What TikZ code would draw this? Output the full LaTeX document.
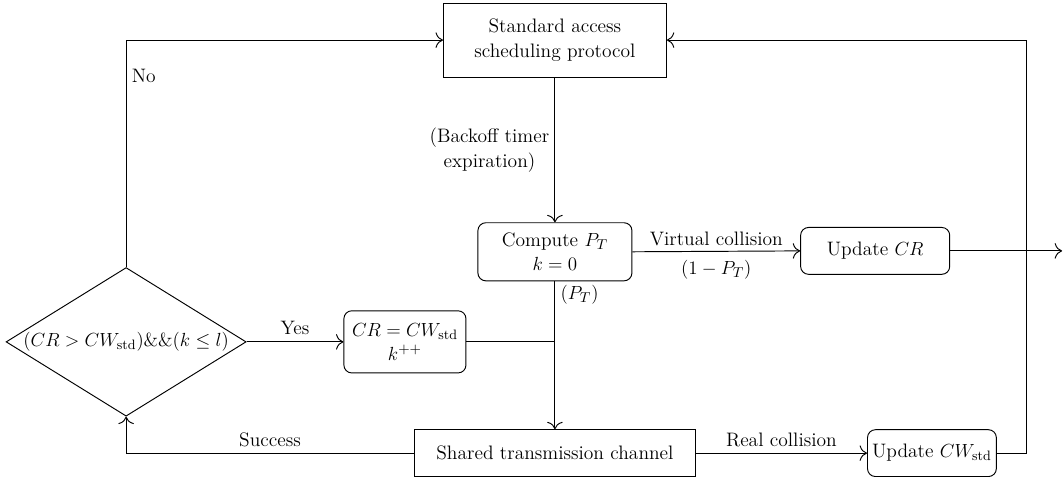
\documentclass[tikz,border=0pt]{standalone}
\usepackage{amsmath}
\usepackage{amssymb,amsfonts}
\usepackage{tikz}
\usetikzlibrary{shapes.geometric}
\usetikzlibrary{positioning}
\usetikzlibrary{calc}
\usetikzlibrary{arrows.meta}

\begin{document}
\begin{tikzpicture}[line width=0.6pt,>={To[scale=1.6]},font=\fontsize{12.3}{15.5}\selectfont,sq/.style={rectangle,draw,align=center,inner sep=2pt},rb/.style={rectangle,rounded corners=5pt,draw,align=center,inner sep=2pt}]
\useasboundingbox (0,0) rectangle (23.6,-10.59);
\node (std) at (12.32,-0.89) [sq,minimum width=4.95cm,minimum height=1.64cm] {Standard access\\scheduling protocol};
\node (comp) at (12.32,-5.59) [rb,minimum width=3.42cm,minimum height=1.29cm] {Compute $P_T$\\$k=0$};
\node (ucr) at (19.43,-5.57) [rb,minimum width=3.31cm,minimum height=1.04cm] {Update $CR$};
\node (dia) at (2.8,-7.59) [diamond,draw,minimum width=5.33cm,minimum height=3.3cm,inner sep=0pt] {};
\node (cond) at (dia) {$(CR > CW_{\text{std}})\&\&(k \leq l)$};
\node (crb) at (8.99,-7.59) [rb,minimum width=2.71cm,minimum height=1.38cm] {$CR = CW_{\text{std}}$\\$k^{++}$};
\node (chan) at (12.32,-10.06) [sq,minimum width=6.24cm,minimum height=1.04cm] {Shared transmission channel};
\node (ucw) at (20.69,-10.06) [rb,minimum width=2.86cm,minimum height=1.04cm,inner sep=1pt] {Update $CW_{\text{std}}$};
\coordinate (join) at ($(comp.south)!(crb.east)!(chan.north)$);
\coordinate (out) at (23.58,-5.57);
\coordinate (rt) at (22.78,-0.89);
\draw[->] (std.south) -- node[left,align=center] {(Backoff timer\\expiration)} (comp.north);
\draw[->] (comp.east) -- node[above] {Virtual collision} node[below=2pt] {$(1-P_T)$} (ucr.west);
\draw[->] (ucr.east) -- (out);
\draw (comp.south) -- node[right,pos=0.22] {$(P_T)$} (join);
\draw[->] (join) -- (chan.north);
\draw (crb.east) -- (join);
\draw[->] (dia.east) -- node[above=1pt] {Yes} (crb.west);
\draw[->] (chan.east) -- node[above] {Real collision} (ucw.west);
\draw[->] (ucw.east) -- (ucw.east -| rt) -- (rt) -- (std.east);
\draw[->] (chan.west) -- node[above] {Success} (chan.west -| dia) -- (dia.south);
\draw[->] (dia.north) -- node[right,pos=0.84] {No} (dia |- std) -- (std.west);
\end{tikzpicture}
\end{document}
